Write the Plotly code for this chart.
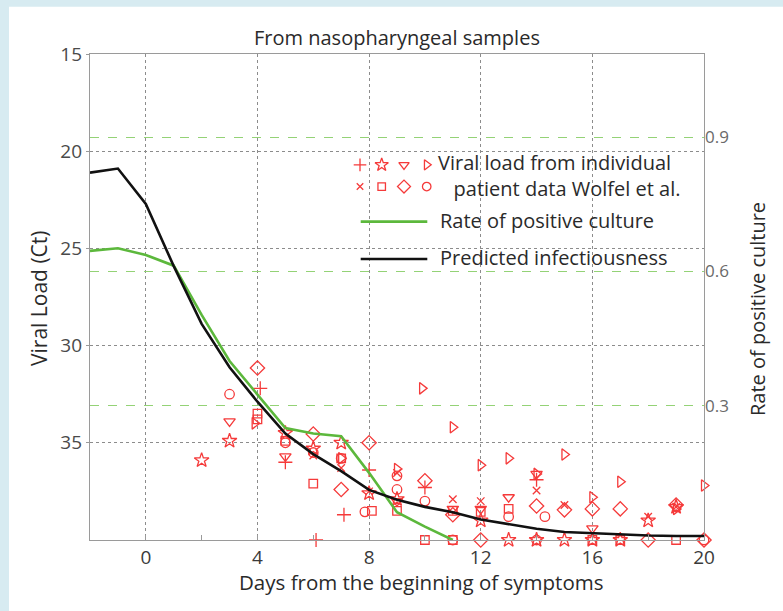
import plotly.graph_objects as go

# ---------------- data ----------------
days_curve = [-2, -1, 0, 1, 2, 3, 4, 5, 6, 7, 8, 9, 10, 11, 12, 13, 14, 15, 16, 17, 18, 19, 20]
predicted_infectiousness = [0.821, 0.830, 0.751, 0.612, 0.483, 0.386, 0.309, 0.238, 0.192, 0.154,
                            0.112, 0.090, 0.074, 0.062, 0.046, 0.035, 0.025, 0.018, 0.015, 0.012,
                            0.010, 0.009, 0.009]
days_culture = [-2, -1, 0, 1, 2, 3, 4, 5, 6, 7, 8, 9, 10, 11]
positive_culture_rate = [0.646, 0.652, 0.637, 0.613, 0.503, 0.400, 0.325, 0.250, 0.238, 0.232,
                         0.150, 0.062, 0.030, 0.0]

plus_x = [4.1, 5, 6.1, 7.1, 8, 10, 14]
plus_ct = [32.2, 36.0, 40, 38.7, 36.4, 37.3, 36.9]
star_x = [2, 3, 5, 6, 7, 8, 9, 12, 13, 14, 15, 16, 17, 18, 19]
star_ct = [35.9, 34.9, 34.5, 35.3, 35.0, 37.6, 37.9, 39.0, 40, 40, 40, 40, 40, 39.0, 38.3]
tridown_x = [3, 5, 9, 11, 12, 13, 14, 16]
tridown_ct = [33.9, 35.7, 38.0, 38.4, 38.4, 37.8, 36.6, 39.4]
triright_x = [3.9, 7, 9, 9.9, 11, 12, 13, 14, 15, 16, 17, 19, 20]
triright_ct = [34.0, 35.8, 36.35, 32.2, 34.2, 36.15, 35.8, 36.6, 35.6, 37.8, 37.0, 38.4, 37.2]
cross_x = [6, 7, 8, 9, 11, 12, 14, 15, 18, 19]
cross_ct = [35.65, 36.3, 37.5, 36.55, 37.9, 38.0, 37.45, 38.2, 38.8, 38.3]
square_x = [4, 4, 5, 6, 7, 8.1, 9, 10, 11, 11, 12, 13, 16, 17, 19]
square_ct = [33.5, 33.8, 34.9, 37.1, 35.8, 38.5, 38.5, 40, 38.5, 40, 38.55, 38.4, 40, 40, 40]
diamond_x = [4, 6, 7, 8, 10, 11, 12, 14, 15, 16, 17, 18, 19, 20]
diamond_ct = [31.15, 34.55, 37.4, 35.0, 36.95, 38.7, 40, 38.25, 38.45, 38.4, 38.4, 40, 38.2, 40]
circle_x = [3, 5, 6, 7, 7.85, 9, 9, 10, 11, 13, 14.3, 14, 20]
circle_ct = [32.5, 35.0, 35.5, 35.8, 38.55, 37.4, 36.7, 38.0, 40, 38.8, 38.8, 40, 40]

x_ticks = [0, 4, 8, 12, 16, 20]
ct_ticks = [15, 20, 25, 30, 35]
rate_ticks = [0.3, 0.6, 0.9]

# ---------------- style ----------------
RED = "#f53a3a"
GREEN = "#5cb83c"
FONT = "Open Sans"
W, H = 783, 611
L, R, T, B = 90, 704, 54.3, 539.7

def px_x(p):
    return (p - L) / (R - L)

def px_y(p):
    return (B - p) / (B - T)

fig = go.Figure()

groups = [
    (plus_x, plus_ct, "cross-thin-open", 10),
    (star_x, star_ct, "star-open", 11),
    (tridown_x, tridown_ct, "triangle-down-open", 10),
    (triright_x, triright_ct, "triangle-right-open", 10),
    (cross_x, cross_ct, "x-thin-open", 7.5),
    (square_x, square_ct, "square-open", 8.5),
    (diamond_x, diamond_ct, "diamond-open", 11),
    (circle_x, circle_ct, "circle-open", 9.5),
]
for gx, gy, sym, sz in groups:
    fig.add_trace(go.Scatter(
        x=gx, y=gy, mode="markers", xaxis="x", yaxis="y", cliponaxis=False,
        marker=dict(symbol=sym, size=sz, color=RED, line=dict(color=RED, width=1.3)),
        showlegend=False))

fig.add_trace(go.Scatter(x=days_culture, y=positive_culture_rate, mode="lines",
                         xaxis="x", yaxis="y2", line=dict(color=GREEN, width=2.6),
                         showlegend=False))
fig.add_trace(go.Scatter(x=days_curve, y=predicted_infectiousness, mode="lines",
                         xaxis="x", yaxis="y2", line=dict(color="#111111", width=2.6),
                         showlegend=False))

# ---- hand-made legend on an overlay axis (0..1 over the plot area) ----
row1_y = px_y(165)
row2_y = px_y(186.7)
cols = [px_x(360), px_x(381.7), px_x(404), px_x(426.7)]
for i, (gx, gy, sym, sz) in enumerate(groups):
    fig.add_trace(go.Scatter(
        x=[cols[i % 4]], y=[row1_y if i < 4 else row2_y], mode="markers",
        xaxis="x3", yaxis="y3", cliponaxis=False,
        marker=dict(symbol=sym, size=sz - 1, color=RED, line=dict(color=RED, width=1.3)),
        showlegend=False))
fig.add_trace(go.Scatter(x=[px_x(360.7), px_x(427.3)], y=[px_y(221.7)] * 2, mode="lines",
                         xaxis="x3", yaxis="y3", line=dict(color=GREEN, width=2.6),
                         showlegend=False))
fig.add_trace(go.Scatter(x=[px_x(360.7), px_x(427.3)], y=[px_y(259)] * 2, mode="lines",
                         xaxis="x3", yaxis="y3", line=dict(color="#111111", width=2.6),
                         showlegend=False))

ann = []
def text(xp, yp, s, size=20, color="#2a2a2a", anchor="left", angle=0):
    ann.append(dict(x=px_x(xp), y=px_y(yp), xref="paper", yref="paper", text=s,
                    showarrow=False, xanchor=anchor, yanchor="middle", textangle=angle,
                    align="left", font=dict(family=FONT, size=size, color=color)))

text(436, 176, "Viral load from individual<br>&nbsp;&nbsp;&nbsp;patient data Wolfel et al.")
text(438, 221, "Rate of positive culture")
text(438, 258, "Predicted infectiousness")
text(397, 38, "From nasopharyngeal samples", anchor="center")
text(421, 582, "Days from the beginning of symptoms", size=20.5, anchor="center")
text(39, 298, "Viral Load (Ct)", size=21, anchor="center", angle=-90)
text(757, 309, "Rate of positive culture", anchor="center", angle=-90)

axis_common = dict(showline=True, linecolor="#9a9a9a", linewidth=1.3, mirror=True,
                   zeroline=False)
fig.update_layout(
    width=W, height=H,
    margin=dict(l=L, r=W - R, t=T, b=H - B, pad=0),
    paper_bgcolor="#d7ebf1", plot_bgcolor="white",
    font=dict(family=FONT, color="#3a3a3a"),
    showlegend=False,
    annotations=ann,
    shapes=[dict(type="rect", xref="paper", yref="paper", layer="below",
                 x0=px_x(9), x1=px_x(W + 5), y0=px_y(H + 5), y1=px_y(7),
                 fillcolor="white", line=dict(width=0))],
    xaxis=dict(range=[-2, 20], tickvals=x_ticks, ticks="inside", ticklen=5,
               tickcolor="#9a9a9a",
               showgrid=True, gridcolor="#8c8c8c", griddash="dot", gridwidth=1,
               tickfont=dict(size=19, color="#3a3a3a"),
               minor=dict(tickvals=[2, 6, 10, 14, 18], ticks="inside", ticklen=5,
                          tickcolor="#9a9a9a", showgrid=False),
               **axis_common),
    yaxis=dict(range=[40, 15], tickvals=ct_ticks, ticks="outside", ticklen=3,
               tickcolor="#9a9a9a", showgrid=True,
               gridcolor="#8c8c8c", griddash="dot", gridwidth=1,
               tickfont=dict(size=19, color="#4a4a4a"), **axis_common),
    yaxis2=dict(range=[0, 1.086], overlaying="y", side="right", tickvals=rate_ticks,
                ticktext=["0.3", "0.6", "0.9"], ticks="", showgrid=True,
                gridcolor="#94d276", griddash="dash", gridwidth=1.2,
                tickfont=dict(size=17, color="#6a6a6a"), showline=False, zeroline=False),
    xaxis3=dict(range=[0, 1], overlaying="x", visible=False, fixedrange=True),
    yaxis3=dict(range=[0, 1], overlaying="y", visible=False, fixedrange=True),
)

fig.write_html("out.html")
